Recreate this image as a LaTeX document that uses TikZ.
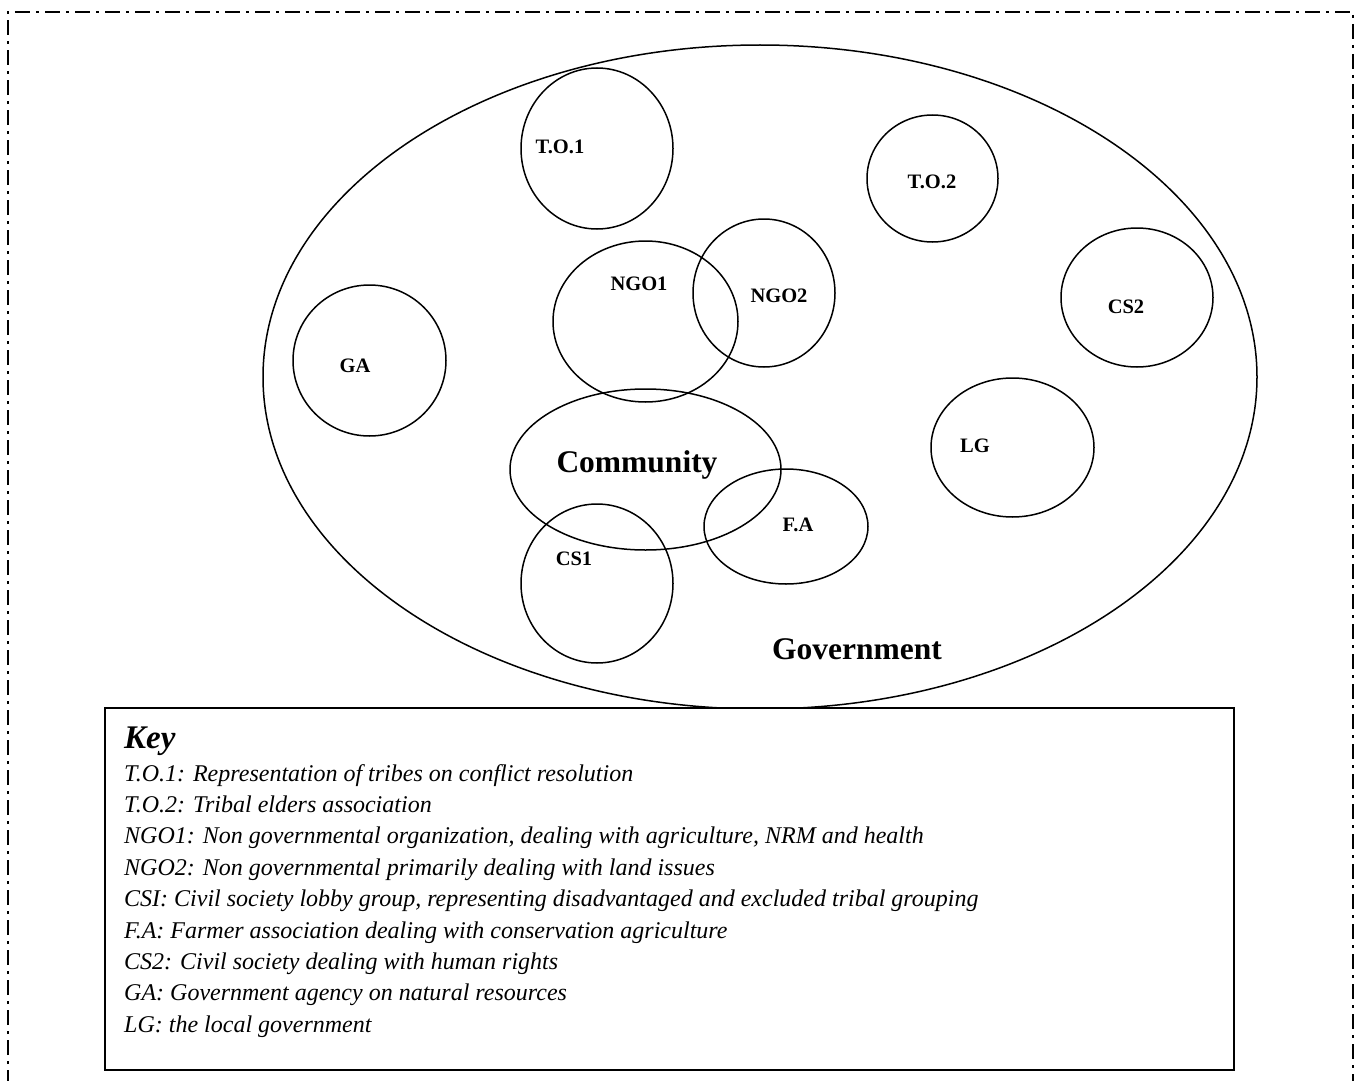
\documentclass[tikz,border=0pt]{standalone}
\usepackage{fontspec}
\setmainfont{Liberation Serif}
\usetikzlibrary{shapes.geometric}
\tikzset{
  x=1pt, y=-1pt,
  org/.style={draw, ellipse, line width=1.5pt, inner sep=0pt},
  lab/.style={font=\fontsize{20.5}{24}\selectfont\bfseries, inner sep=0pt},
  biglab/.style={font=\fontsize{31.5}{36}\selectfont\bfseries, inner sep=0pt},
  keyline/.style={font=\fontsize{24}{28}\selectfont\itshape, anchor=base west, inner sep=0pt},
  frame/.style={line width=1.5pt, dash pattern=on 15pt off 6pt on 3pt off 6pt}
}
\newcommand{\orgnode}[5]{\node[org, minimum width=#4pt, minimum height=#5pt] (#1) at (#2,#3) {};}
\begin{document}
\begin{tikzpicture}
\useasboundingbox (0,0) rectangle (1361,1081);
\coordinate (fbl) at (8,1085);
\coordinate (ftl) at (8,12);
\coordinate (ftr) at (1353,12);
\coordinate (fbr) at (1353,1085);
\draw[frame] (fbl) -- (ftl) -- (ftr) -- (fbr);
% government
\orgnode{gov}{760}{377}{994}{664}
\orgnode{to1}{597}{148.5}{152}{161}
\orgnode{to2}{932.5}{178.5}{131}{127}
\orgnode{ngo1}{645.5}{321.5}{185}{161}
\orgnode{ngo2}{764}{293}{142}{148}
\orgnode{cs2}{1137}{297.5}{152}{139}
\orgnode{ga}{369.5}{360.5}{153}{151}
\orgnode{lg}{1012.5}{447.5}{163}{139}
\orgnode{comm}{645.5}{469.5}{271}{161}
\orgnode{fa}{786}{526.5}{164}{115}
\orgnode{cs1}{597}{583.5}{152}{159}
% labels
\node[lab] (lto1) at (560,147) {T.O.1};
\node[lab] (lto2) at (932,182) {T.O.2};
\node[lab] (lngo1) at (639,284) {NGO1};
\node[lab] (lngo2) at (779,296) {NGO2};
\node[lab] (lcs2) at (1126,307) {CS2};
\node[lab] (lga) at (355,366) {GA};
\node[lab] (llg) at (975,446) {LG};
\node[lab] (lfa) at (798,525) {F.A};
\node[lab] (lcs1) at (574,559) {CS1};
\node[biglab] (lcomm) at (637,465) {Community};
\node[biglab] (lgov) at (857,649) {Government};
% key box
\node[draw, fill=white, line width=2pt, minimum width=1129pt, minimum height=362pt, inner sep=0pt, anchor=north west] (key) at (104,707) {};
\node[anchor=base west, inner sep=0pt, font=\fontsize{33}{38}\selectfont\bfseries\itshape] (keyt) at (124,748) {Key};
\node[keyline] (k1) at (124,781) {T.O.1: Representation of tribes on conflict resolution};
\node[keyline] (k2) at (124,812.4) {T.O.2: Tribal elders association};
\node[keyline] (k3) at (124,843.8) {NGO1: Non governmental organization, dealing with agriculture, NRM and health};
\node[keyline] (k4) at (124,875.2) {NGO2: Non governmental primarily dealing with land issues};
\node[keyline] (k5) at (124,906.6) {CSI: Civil society lobby group, representing disadvantaged and excluded tribal grouping};
\node[keyline] (k6) at (124,938) {F.A: Farmer association dealing with conservation agriculture};
\node[keyline] (k7) at (124,969.4) {CS2: Civil society dealing with human rights};
\node[keyline] (k8) at (124,1000.8) {GA: Government agency on natural resources};
\node[keyline] (k9) at (124,1032.2) {LG: the local government};
\end{tikzpicture}
\end{document}
